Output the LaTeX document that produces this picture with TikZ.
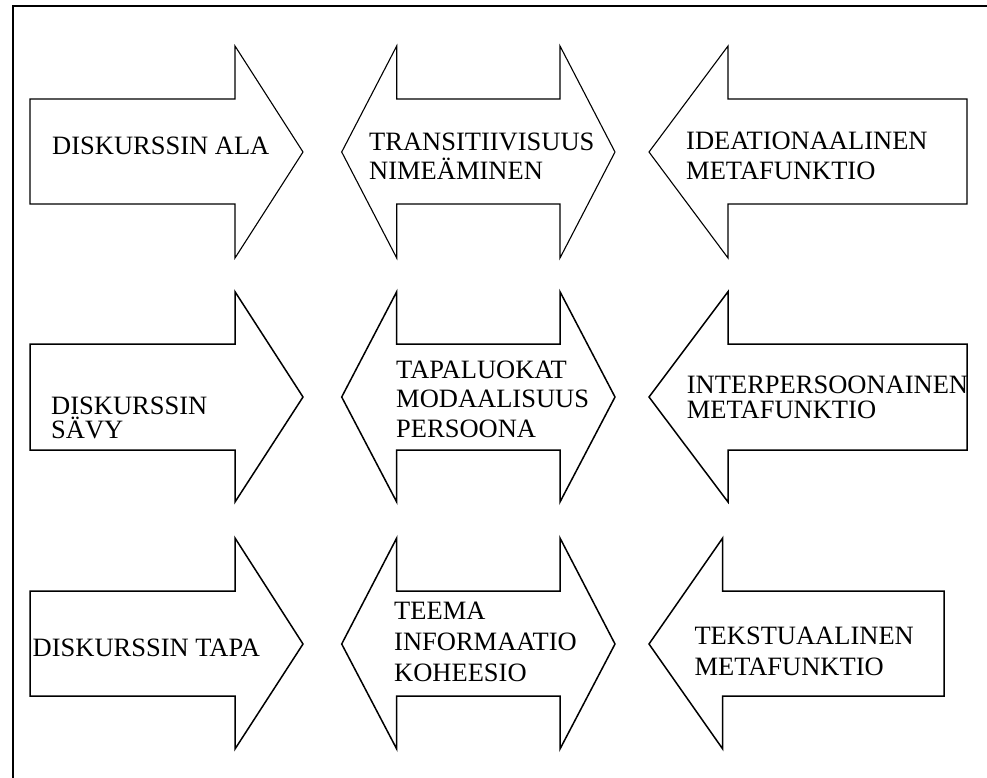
\documentclass[tikz,border=0pt]{standalone}
\usepackage{fontspec}
\setmainfont{Liberation Serif}
\begin{document}
\begin{tikzpicture}[x=1pt,y=-1pt,
  frameline/.style={line width=2pt},
  blockarrow/.style={draw=black,fill=white,line width=1.1pt,line join=miter},
  blockarrowthick/.style={draw=black,fill=white,line width=1.5pt,line join=miter},
  lbl/.style={anchor=base west,inner sep=0pt,align=left,font=\fontsize{26.5}{29.5}\selectfont}]
\useasboundingbox (0,0) rectangle (987,778);
% frame
\coordinate (fb) at (13,779);
\coordinate (ftl) at (13,6);
\coordinate (ftr) at (988,6);
\draw[frameline] (fb) -- (ftl) -- (ftr);

% ---------- Row 1 (centre 152) ----------
\draw[blockarrow] (30,99) -- (235,99) -- (235,46) -- (303,152) -- (235,258) -- (235,204) -- (30,204) -- cycle;
\draw[blockarrow] (341.7,152) -- (396.7,46) -- (396.7,99) -- (560,99) -- (560,46) -- (615,152) -- (560,258) -- (560,204) -- (396.7,204) -- (396.7,258) -- cycle;
\draw[blockarrow] (649,152) -- (728,46) -- (728,99) -- (967,99) -- (967,204) -- (728,204) -- (728,258) -- cycle;
\node[lbl] (t11) at (52,155) {DISKURSSIN ALA};
\node[lbl] (t12) at (369,180) {TRANSITIIVISUUS\\NIMEÄMINEN};
\node[lbl] (t13) at (686,179.3) {IDEATIONAALINEN\\METAFUNKTIO};

% ---------- Row 2 (centre 397) ----------
\draw[blockarrowthick] (30,344) -- (235,344) -- (235,291.7) -- (303,397) -- (235,502) -- (235,450) -- (30,450) -- cycle;
\draw[blockarrowthick] (341.7,397) -- (396.7,291.7) -- (396.7,344) -- (560,344) -- (560,291.7) -- (615,397) -- (560,502) -- (560,450) -- (396.7,450) -- (396.7,502) -- cycle;
\draw[blockarrowthick] (649,397) -- (728,291.7) -- (728,344) -- (967,344) -- (967,450) -- (728,450) -- (728,502) -- cycle;
\node[lbl,font=\fontsize{26.5}{24}\selectfont] (t21) at (51,438.5) {DISKURSSIN\\SÄVY};
\node[lbl] (t22) at (396,437.3) {TAPALUOKAT\\MODAALISUUS\\PERSOONA};
\node[lbl,font=\fontsize{26.5}{25}\selectfont] (t23) at (686.7,418.3) {INTERPERSOONAINEN\\METAFUNKTIO};

% ---------- Row 3 (centre 644) ----------
\draw[blockarrowthick] (30,591) -- (235,591) -- (235,538) -- (303,644) -- (235,749) -- (235,696) -- (30,696) -- cycle;
\draw[blockarrowthick] (341.7,644) -- (396.7,538) -- (396.7,591) -- (560,591) -- (560,538) -- (615,644) -- (560,749) -- (560,696) -- (396.7,696) -- (396.7,749) -- cycle;
\draw[blockarrowthick] (649,644) -- (722.7,538) -- (722.7,591) -- (944,591) -- (944,696) -- (722.7,696) -- (722.7,749) -- cycle;
\node[lbl] (t31) at (32.5,656) {DISKURSSIN TAPA};
\node[lbl,font=\fontsize{26.5}{31}\selectfont] (t32) at (394,681.7) {TEEMA\\INFORMAATIO\\KOHEESIO};
\node[lbl,font=\fontsize{26.5}{30.5}\selectfont] (t33) at (694.3,675) {TEKSTUAALINEN\\METAFUNKTIO};
\end{tikzpicture}
\end{document}
